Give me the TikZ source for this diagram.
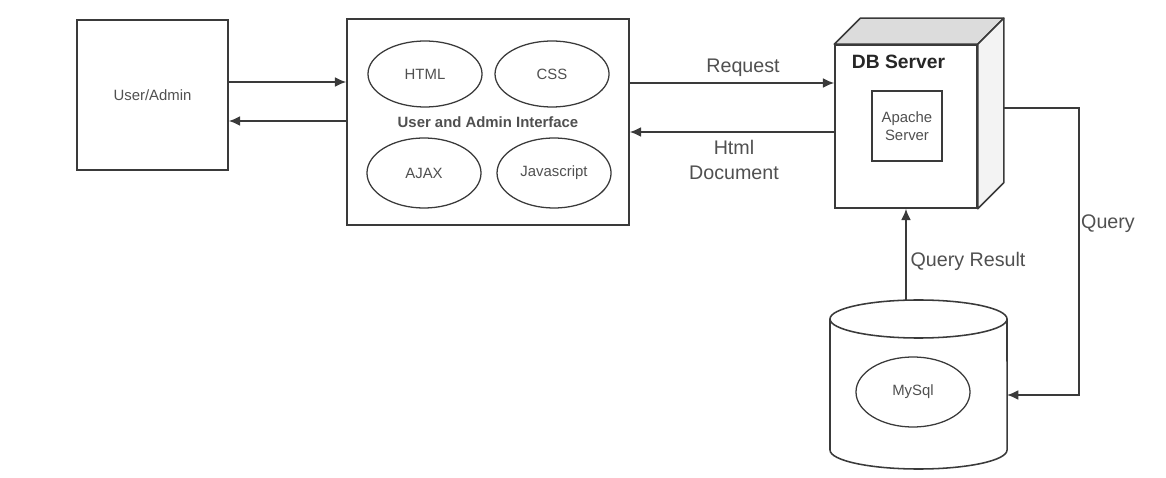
\documentclass[tikz,border=0pt]{standalone}
\usepackage{fontspec}
\setmainfont{Liberation Sans}
\usetikzlibrary{arrows.meta,shapes.geometric}

\definecolor{linegray}{HTML}{3A3A3A}
\definecolor{textgray}{HTML}{505050}
\definecolor{topgray}{HTML}{DCDCDC}
\definecolor{sidegray}{HTML}{F3F3F3}

\tikzset{
    box/.style={draw=linegray, line width=1.1pt, fill=white, text=textgray, inner sep=0pt,
        font=\fontsize{10.6}{13}\selectfont},
    oval/.style={ellipse, draw=linegray, line width=0.9pt, text=textgray, inner sep=0pt,
        minimum width=2.85cm, minimum height=1.65cm, font=\fontsize{10.6}{13}\selectfont},
    conn/.style={draw=linegray, line width=1.1pt, -{Latex[length=8pt,width=7pt]}},
    lbl/.style={text=textgray, font=\fontsize{14}{18}\selectfont, align=center}
}

\begin{document}
\begin{tikzpicture}[x=0.025cm, y=-0.025cm, node distance=3.175cm]
    \useasboundingbox (0,0) rectangle (1166,478);

    \node[box, minimum width=3.775cm, minimum height=3.75cm]   (user)   at (152.5,95)  {User/Admin};
    \node[box, minimum width=7.05cm, minimum height=5.15cm]    (iface)  at (488,122)   {};
    \node[text=textgray, font=\fontsize{10.6}{13}\selectfont\bfseries] (ilabel) at (488,122) {User and Admin Interface};

    \node[oval]   (html)   at (425,74)     {HTML};
    \node[oval]   (css)    [right of = html]   {CSS};
    \node[oval, minimum height=1.75cm]   (ajax) at (424,173)    {AJAX};
    \node[oval, minimum height=1.75cm]   (js)   [right of = ajax, xshift=0.075cm]  {Javascript};

    % db server cube
    \node[box, minimum width=3.55cm, minimum height=4.075cm]   (cube)   at (906,126.5)  {};
    \draw[draw=linegray, line width=1.1pt, fill=topgray, line join=round]
        (cube.north west) -- ++(26,-26) -- ([shift={(26,-26)}]cube.north east) -- (cube.north east) -- cycle;
    \draw[draw=linegray, line width=1.1pt, fill=sidegray, line join=round]
        (cube.north east) -- ++(26,-26) -- ([shift={(26,-26)}]cube.south east) -- (cube.south east) -- cycle;
    \node[anchor=west, text=black!85, font=\fontsize{13.7}{16}\selectfont\bfseries] (dbname) at (847,62) {DB Server};
    \node[box, minimum width=1.75cm, minimum height=1.75cm, align=center] (apache) at (907,126) {Apache\\Server};

    % mysql cylinder
    \node[minimum width=4.425cm, minimum height=4.225cm, inner sep=0pt] (db) at (918.5,384.5) {};
    \draw[draw=linegray, line width=1.1pt, fill=white]
        (830,319) -- (830,450) arc[start angle=180, end angle=360, x radius=2.2125cm, y radius=0.475cm]
        -- (1007,319);
    \draw[draw=linegray, line width=1.1pt] (918.5,319) ellipse [x radius=2.2125cm, y radius=0.475cm];
    \node[oval, minimum height=1.75cm]   (mysql)   at (913,392)   {MySql};

    \coordinate (qout) at (1003,108);
    \coordinate (qin)  at (1007,395);

    \draw[conn]   ([yshift=0.325cm]user.east)   --  ([yshift=0.325cm]user.east -| iface.west);
    \draw[conn]   ([yshift=-0.65cm]user.east -| iface.west)  --  ([yshift=-0.65cm]user.east);
    \draw[conn]   ([yshift=0.975cm]iface.east)  --  ([yshift=0.975cm]iface.east -| cube.west);
    \draw[conn]   ([yshift=-0.25cm]iface.east -| cube.west)  --  ([yshift=-0.25cm]iface.east);
    \draw[conn]   (cube.south |- db.north)      --  (cube.south);
    \draw[conn]   (qout)  --  (1079,108)  |-  (qin);

    \node[lbl]   (req)     at (743,68)    {Request};
    \node[lbl]   (resp)    at (734,160)   {Html\\Document};
    \node[lbl]   (qres)    at (968,261)   {Query Result};
    \node[lbl]   (query)   at (1108,224)  {Query};
\end{tikzpicture}
\end{document}
